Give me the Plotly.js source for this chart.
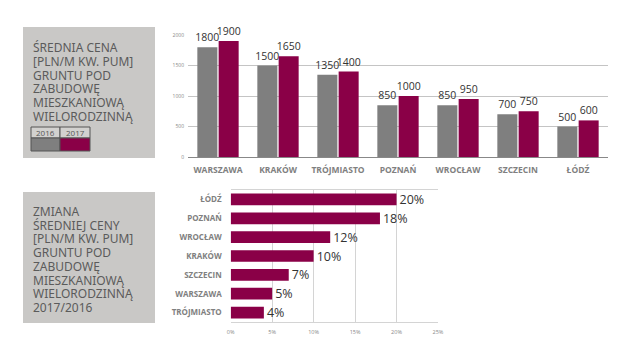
<!DOCTYPE html>
<html lang="pl"><head><meta charset="utf-8">
<script src="https://cdn.plot.ly/plotly-3.0.1.min.js"></script>
<style>html,body{margin:0;padding:0;background:#fff}#chart{width:641px;height:362px}</style>
</head><body><div id="chart"></div>
<script>
// ---- data ----
const cities = ['WARSZAWA','KRAKÓW','TRÓJMIASTO','POZNAŃ','WROCŁAW','SZCZECIN','ŁÓDŹ'];
const price2016 = [1800,1500,1350,850,850,700,500];
const price2017 = [1900,1650,1400,1000,950,750,600];
const priceTicks = [0,500,1000,1500,2000];
const changeCities = ['ŁÓDŹ','POZNAŃ','WROCŁAW','KRAKÓW','SZCZECIN','WARSZAWA','TRÓJMIASTO'];
const changePct = [0.20,0.18,0.12,0.10,0.07,0.05,0.04];
const pctTicks = [0,0.05,0.10,0.15,0.20,0.25];
const pctTickLabels = ['0%','5%','10%','15%','20%','25%'];
const seriesNames = ['2016','2017'];
const title1 = ['ŚREDNIA CENA','[PLN/M KW. PUM]','GRUNTU POD','ZABUDOWĘ','MIESZKANIOWĄ','WIELORODZINNĄ'];
const title2 = ['ZMIANA','ŚREDNIEJ CENY','[PLN/M KW. PUM]','GRUNTU POD','ZABUDOWĘ','MIESZKANIOWĄ','WIELORODZINNĄ','2017/2016'];

// ---- style ----
const W = 641, H = 362;
const px = x => x / W, py = y => 1 - y / H;
const GRAY = '#7f7f7f', PURPLE = '#8a0047', BOX = '#c9c8c6', TXT = '#5b5b5b';
const valFont = {family:'Open Sans, sans-serif', size:10.5, color:'#333'};

const traces = [
  {type:'bar', x:cities, y:price2016, name:seriesNames[0], xaxis:'x', yaxis:'y',
   marker:{color:GRAY}, text:price2016.map(String), textposition:'outside', cliponaxis:false,
   constraintext:'none', textfont:valFont},
  {type:'bar', x:cities, y:price2017, name:seriesNames[1], xaxis:'x', yaxis:'y',
   marker:{color:PURPLE}, text:price2017.map(String), textposition:'outside', cliponaxis:false,
   constraintext:'none', textfont:valFont},
  {type:'bar', orientation:'h', x:changePct, y:changeCities, xaxis:'x2', yaxis:'y2', width:0.62,
   marker:{color:PURPLE}, text:changePct.map(v => Math.round(v*100)+'%'), textposition:'outside', cliponaxis:false,
   constraintext:'none', textfont:{family:'Open Sans, sans-serif', size:12.5, color:'#333'}}
];

const shapes = [
  {type:'rect', xref:'paper', yref:'paper', x0:px(23), x1:px(155), y0:py(27), y1:py(158), fillcolor:BOX, line:{width:0}, layer:'below'},
  {type:'rect', xref:'paper', yref:'paper', x0:px(23), x1:px(155), y0:py(192), y1:py(323), fillcolor:BOX, line:{width:0}, layer:'below'},
  {type:'rect', xref:'paper', yref:'paper', x0:px(31), x1:px(60), y0:py(127), y1:py(138), fillcolor:'#d2d1cf', line:{color:'#555', width:1}},
  {type:'rect', xref:'paper', yref:'paper', x0:px(60), x1:px(90), y0:py(127), y1:py(138), fillcolor:'#d2d1cf', line:{color:'#555', width:1}},
  {type:'rect', xref:'paper', yref:'paper', x0:px(31), x1:px(60), y0:py(138), y1:py(151), fillcolor:GRAY, line:{color:'#555', width:1}},
  {type:'rect', xref:'paper', yref:'paper', x0:px(60), x1:px(90), y0:py(138), y1:py(151), fillcolor:PURPLE, line:{color:'#555', width:1}}
];

const annotations = [];
const tf = {family:'Noto Sans, DejaVu Sans, sans-serif', size:12, color:TXT};
title1.forEach((t,i) => annotations.push({xref:'paper', yref:'paper', x:px(31), y:py(47.5 + i*13.8), text:t,
  showarrow:false, xanchor:'left', yanchor:'middle', font:tf}));
title2.forEach((t,i) => annotations.push({xref:'paper', yref:'paper', x:px(31), y:py(211.5 + i*13.7), text:t,
  showarrow:false, xanchor:'left', yanchor:'middle', font:tf}));
annotations.push({xref:'paper', yref:'paper', x:px(45.5), y:py(132.5), text:seriesNames[0], showarrow:false,
  xanchor:'center', yanchor:'middle', font:{family:'Open Sans, sans-serif', size:8, color:'#555'}});
annotations.push({xref:'paper', yref:'paper', x:px(75), y:py(132.5), text:seriesNames[1], showarrow:false,
  xanchor:'center', yanchor:'middle', font:{family:'Open Sans, sans-serif', size:8, color:'#555'}});

const layout = {
  width:W, height:H, margin:{l:0,r:0,t:0,b:0}, paper_bgcolor:'#fff', plot_bgcolor:'rgba(0,0,0,0)',
  showlegend:false, barmode:'group', bargap:0.29, bargroupgap:0.06,
  xaxis:{domain:[px(188), px(608)], anchor:'y', showgrid:false, showline:true, linecolor:'#888', linewidth:1,
    ticks:'', tickfont:{family:'Open Sans, sans-serif', size:8.5, color:'#808080', weight:'bold'},
    ticklabelstandoff:5, fixedrange:true},
  yaxis:{domain:[py(157), py(35)], anchor:'x', range:[0,2000], tickvals:priceTicks, ticktext:priceTicks.map(String),
    showgrid:true, gridcolor:'#c4c4c4', gridwidth:1, zeroline:false, showline:false,
    tickfont:{family:'Open Sans, sans-serif', size:5, color:'#888'}, ticklabelstandoff:3},
  xaxis2:{domain:[px(230.7), px(438)], anchor:'y2', range:[0,0.25], tickvals:pctTicks, ticktext:pctTickLabels,
    showgrid:true, gridcolor:'#d4d4d4', zeroline:false, showline:true, mirror:true, linecolor:'#d4d4d4',
    tickfont:{family:'Open Sans, sans-serif', size:5.5, color:'#888'}, ticklabelstandoff:4},
  yaxis2:{domain:[py(322), py(190)], anchor:'x2', categoryorder:'array', categoryarray:changeCities, autorange:'reversed',
    showgrid:false, showline:false, ticks:'',
    tickfont:{family:'Open Sans, sans-serif', size:8, color:'#808080', weight:'bold'},
    ticklabelstandoff:8},
  shapes:shapes, annotations:annotations
};
Plotly.newPlot('chart', traces, layout, {displayModeBar:false, staticPlot:true});
</script></body></html>
